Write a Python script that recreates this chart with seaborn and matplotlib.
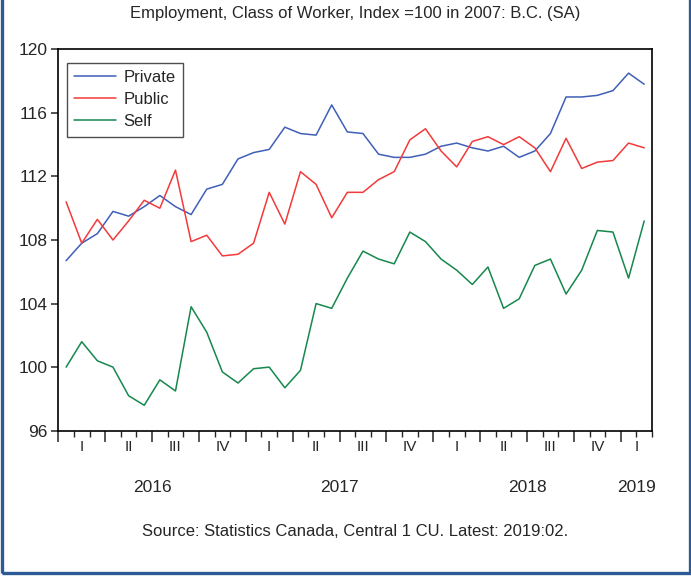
import numpy as np
import pandas as pd
import matplotlib
matplotlib.use("Agg")
import matplotlib.pyplot as plt
import matplotlib.transforms as mtransforms
from matplotlib.patches import Rectangle
from matplotlib.lines import Line2D
import seaborn as sns

# monthly index values, 2016:01 .. 2019:02
months = pd.period_range("2016-01", "2019-02", freq="M").strftime("%Y-%m").tolist()

private = [106.7, 107.8, 108.4, 109.8, 109.5, 110.1, 110.8, 110.1, 109.6, 111.2,
           111.5, 113.1, 113.5, 113.7, 115.1, 114.7, 114.6, 116.5, 114.8, 114.7,
           113.4, 113.2, 113.2, 113.4, 113.9, 114.1, 113.8, 113.6, 113.9, 113.2,
           113.6, 114.7, 117.0, 117.0, 117.1, 117.4, 118.5, 117.8]
public = [110.4, 107.8, 109.3, 108.0, 109.2, 110.5, 110.0, 112.4, 107.9, 108.3,
          107.0, 107.1, 107.8, 111.0, 109.0, 112.3, 111.5, 109.4, 111.0, 111.0,
          111.8, 112.3, 114.3, 115.0, 113.6, 112.6, 114.2, 114.5, 114.0, 114.5,
          113.8, 112.3, 114.4, 112.5, 112.9, 113.0, 114.1, 113.8]
self_emp = [100.0, 101.6, 100.4, 100.0, 98.2, 97.6, 99.2, 98.5, 103.8, 102.2,
            99.7, 99.0, 99.9, 100.0, 98.7, 99.8, 104.0, 103.7, 105.6, 107.3,
            106.8, 106.5, 108.5, 107.9, 106.8, 106.1, 105.2, 106.3, 103.7, 104.3,
            106.4, 106.8, 104.6, 106.1, 108.6, 108.5, 105.6, 109.2]

series_names = ["Private", "Public", "Self"]
colors = ["#3f5fb8", "#f23a3a", "#16884c"]
quarter_labels = ["I", "II", "III", "IV"]
years = ["2016", "2017", "2018", "2019"]

df = pd.DataFrame({"month": months, "Private": private, "Public": public, "Self": self_emp})
df["t"] = np.arange(len(df))
long_df = df.melt(id_vars=["month", "t"], value_vars=series_names,
                  var_name="series", value_name="index")

sns.set_style("ticks")
plt.rcParams["font.family"] = ["Liberation Sans", "DejaVu Sans"]

fig = plt.figure(figsize=(6.91, 5.79), dpi=100)
ax = fig.add_axes([58.3 / 691, 1 - 430.7 / 579, (652 - 58.3) / 691, (430.7 - 49.3) / 579])

sns.lineplot(data=long_df, x="t", y="index", hue="series", hue_order=series_names,
             palette=colors, linewidth=1.1, ax=ax, legend=False)

n = len(df)
ax.set_xlim(-0.5, n - 0.5)
ax.set_ylim(96, 120)
ax.set_yticks(np.arange(96, 121, 4))
ax.set_xlabel("")
ax.set_ylabel("")

# month ticks (minor) and quarter boundaries (major)
ax.set_xticks(np.arange(-0.5, n, 3))
ax.set_xticks(np.arange(-0.5, n, 1), minor=True)
ax.set_xticklabels([])
ax.tick_params(axis="x", which="major", length=8, width=1.1, direction="out")
ax.tick_params(axis="x", which="minor", length=4, width=1.0, direction="out")
ax.tick_params(axis="y", length=5, width=1.1, labelsize=12.5, pad=3)
for s in ax.spines.values():
    s.set_visible(True)
    s.set_linewidth(1.2)
    s.set_color("black")

trans = mtransforms.blended_transform_factory(ax.transData, ax.transAxes)
for q in range(0, n, 3):
    qi = (q // 3) % 4
    center = min(q + 1, (q + n - 1) / 2)
    ax.text(center, -0.042, quarter_labels[qi], transform=trans,
            ha="center", va="center", fontsize=11)

for k, yr in enumerate(years):
    start = 12 * k
    end = min(12 * k + 11, n - 1)
    ax.text((start + end) / 2, -0.15, yr, transform=trans,
            ha="center", va="center", fontsize=12.5)

handles = [Line2D([0], [0], color=c, lw=1.1) for c in colors]
leg = ax.legend(handles, series_names, loc="upper left", bbox_to_anchor=(0.014, 0.965),
                fontsize=12, frameon=True, fancybox=False, handlelength=2.5,
                handletextpad=0.45, borderpad=0.45, labelspacing=0.42, borderaxespad=0)
leg.get_frame().set_edgecolor("#222222")
leg.get_frame().set_linewidth(1.0)

# title and source centred over the plot area
ax.text(0.5, 1 + 36 / 381.4, "Employment, Class of Worker, Index =100 in 2007: B.C. (SA)",
        transform=ax.transAxes, ha="center", va="center", fontsize=12)
ax.text(0.5, -101 / 381.4, "Source: Statistics Canada, Central 1 CU. Latest: 2019:02.",
        transform=ax.transAxes, ha="center", va="center", fontsize=12)

# blue frame around the figure
fig.patches.append(Rectangle((1.5 / 691, 6 / 579), 688 / 691, 1.1, transform=fig.transFigure,
                             fill=False, edgecolor="#2b5a97", linewidth=2.4, clip_on=False))

fig.savefig("out.png", dpi=100)
